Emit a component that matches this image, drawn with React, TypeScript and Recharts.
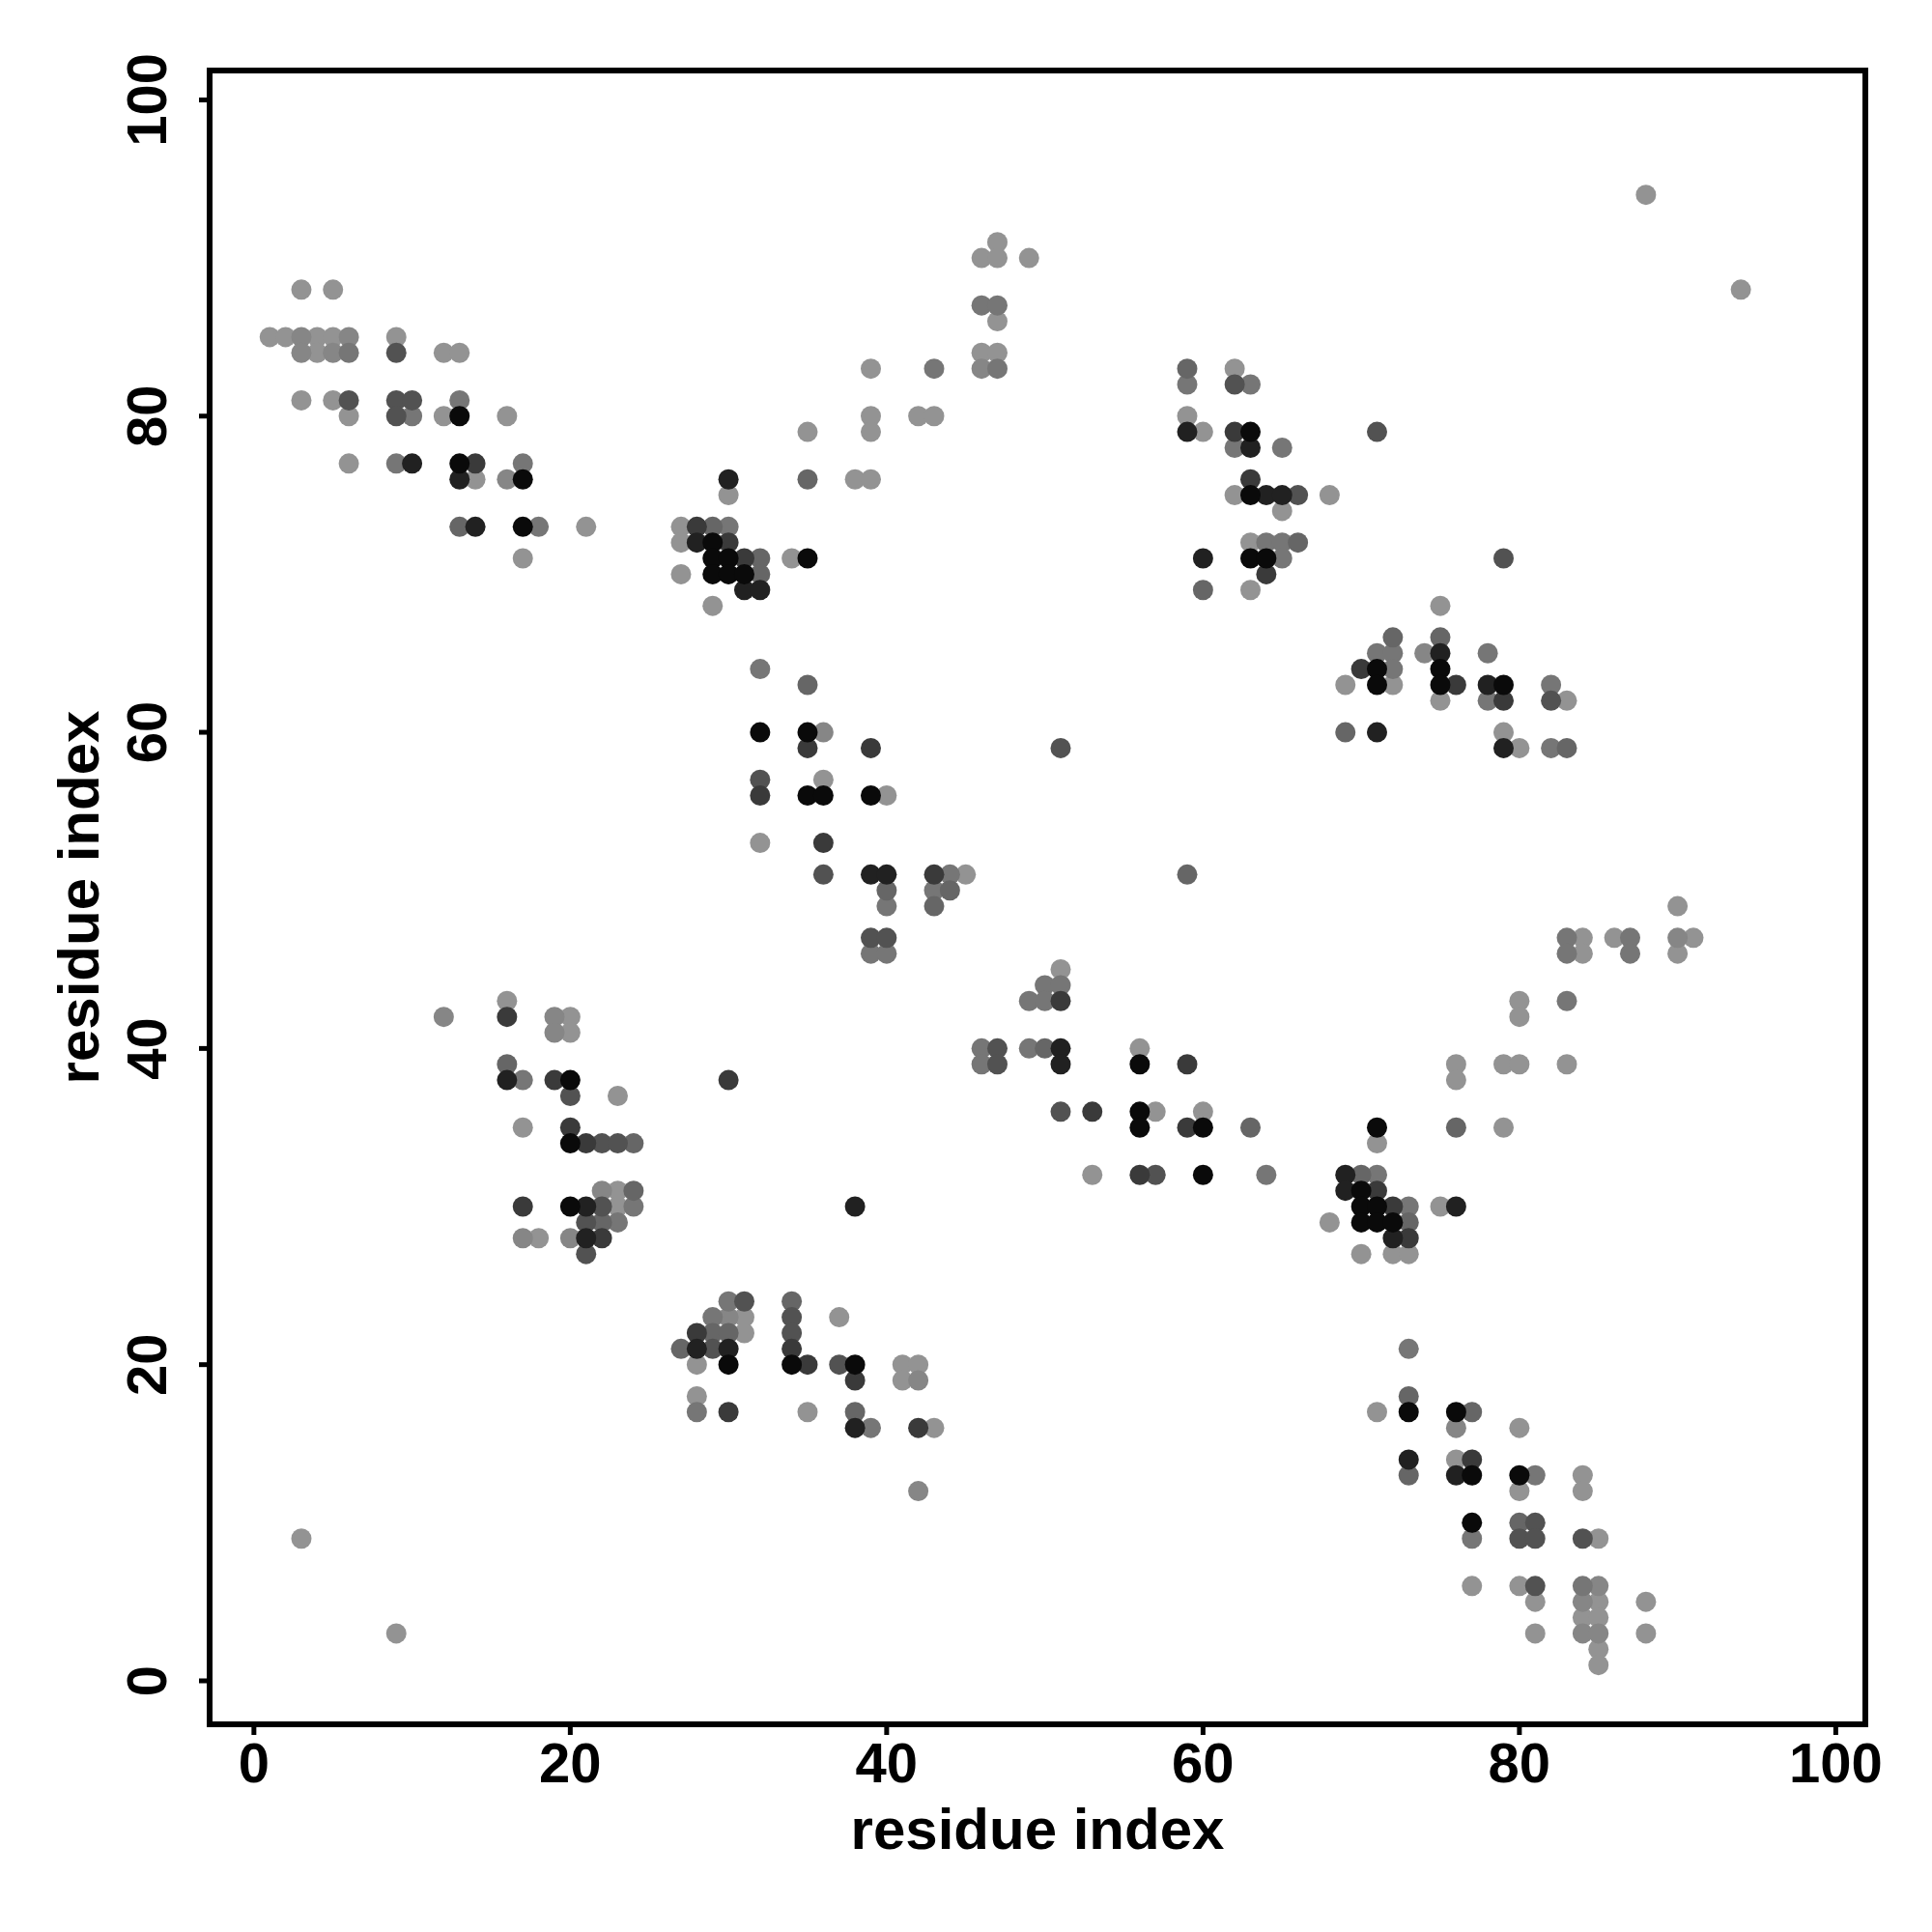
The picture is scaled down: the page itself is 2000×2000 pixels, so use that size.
import React from "react";
import { ScatterChart, Scatter, XAxis, YAxis } from "recharts";

type P = [number, number];

const tickValues = [0, 20, 40, 60, 80, 100];
const axisTitle = "residue index";

const shadeBlack: P[] = [[13,80],[13,77],[17,76],[17,73],[29,72],[29,71],[30,71],[35,71],[29,70],[30,70],[31,70],[32,60],[35,60],[63,79],[63,75],[63,71],[64,71],[71,64],[75,64],[71,63],[75,63],[79,63],[35,56],[36,56],[39,56],[56,39],[56,36],[56,35],[60,35],[60,32],[20,38],[20,34],[20,30],[71,35],[70,31],[70,30],[71,30],[70,29],[71,29],[72,29],[30,20],[34,20],[38,20],[73,17],[76,17],[77,13],[80,13],[77,10]];
const shadeVeryDark: P[] = [[10,77],[13,76],[30,76],[14,73],[28,72],[31,69],[32,69],[59,79],[63,78],[64,75],[65,75],[60,71],[75,65],[78,63],[71,60],[79,59],[39,51],[40,51],[51,40],[51,39],[38,30],[16,38],[21,30],[21,28],[69,32],[69,31],[72,28],[76,30],[28,21],[30,21],[38,16],[73,14],[76,13]];
const shadeDark: P[] = [[14,77],[28,73],[30,72],[31,71],[35,59],[62,79],[63,76],[64,70],[70,64],[76,63],[79,62],[32,56],[39,59],[36,53],[43,51],[51,43],[59,39],[53,36],[59,35],[56,32],[16,42],[19,38],[30,38],[20,35],[21,34],[17,30],[22,28],[71,31],[72,30],[73,28],[28,22],[34,21],[35,20],[38,19],[30,17],[42,16],[77,14]];
const shadeDarkMid: P[] = [[9,84],[6,81],[9,81],[10,81],[9,80],[62,82],[71,79],[66,75],[79,71],[82,62],[32,57],[51,59],[36,51],[39,47],[40,47],[47,40],[47,39],[51,36],[57,32],[20,37],[22,34],[23,34],[22,30],[21,29],[21,27],[31,24],[34,23],[34,22],[29,21],[37,20],[81,10],[80,9],[81,9],[84,9],[81,6]];
const shadeMid: P[] = [[13,73],[29,73],[32,71],[32,70],[35,63],[35,76],[59,83],[66,72],[60,69],[72,66],[75,66],[69,60],[83,59],[59,51],[40,50],[44,50],[43,49],[50,40],[63,35],[16,39],[24,34],[24,31],[22,29],[76,35],[70,32],[73,29],[34,24],[29,22],[30,22],[27,21],[38,17],[73,18],[77,17],[73,13],[80,10]];
const shadeMidLight: P[] = [[6,84],[13,81],[10,80],[9,77],[17,77],[18,73],[30,73],[32,64],[46,87],[47,87],[47,83],[43,83],[59,82],[63,82],[62,78],[65,78],[64,72],[65,72],[65,71],[71,65],[72,65],[78,65],[72,64],[82,63],[78,62],[82,59],[44,51],[43,50],[40,49],[39,46],[40,46],[50,44],[51,44],[49,43],[50,43],[46,40],[49,40],[46,39],[64,32],[17,38],[24,30],[23,29],[83,47],[87,47],[83,46],[87,46],[83,43],[71,32],[73,30],[30,24],[29,23],[28,17],[39,16],[73,21],[77,9],[81,13],[84,6]];
const shadeLightish: P[] = [[3,85],[6,85],[3,84],[5,84],[16,76],[36,60],[46,83],[74,65],[12,42],[19,42],[19,41],[22,31],[17,28],[20,28],[90,47],[30,23],[42,19],[42,12],[76,16],[85,6],[84,5],[84,3],[85,3]];
const shadeLight: P[] = [[3,88],[5,88],[1,85],[2,85],[4,85],[5,85],[9,85],[4,84],[12,84],[13,84],[3,81],[5,81],[6,80],[12,80],[16,80],[35,79],[6,77],[14,76],[30,75],[21,73],[27,73],[27,72],[17,71],[34,71],[27,70],[29,68],[47,91],[46,90],[47,90],[49,90],[47,86],[46,84],[47,84],[39,83],[39,80],[42,80],[43,80],[39,79],[38,76],[39,76],[62,83],[59,80],[60,79],[62,75],[68,75],[65,74],[63,72],[63,69],[75,68],[69,63],[72,63],[75,62],[83,62],[79,60],[80,59],[88,94],[94,88],[36,57],[40,56],[32,53],[45,51],[51,45],[56,40],[57,36],[60,36],[53,32],[16,43],[20,42],[20,41],[23,37],[17,35],[23,31],[23,30],[18,28],[90,49],[84,47],[86,47],[91,47],[84,46],[90,46],[80,43],[80,42],[76,39],[79,39],[80,39],[83,39],[76,38],[79,35],[71,34],[75,30],[68,29],[70,27],[72,27],[73,27],[31,23],[37,23],[31,22],[28,20],[41,20],[42,20],[28,18],[41,19],[35,17],[43,16],[3,9],[9,3],[71,17],[80,16],[76,14],[84,13],[80,12],[84,12],[85,9],[77,6],[80,6],[81,5],[85,5],[88,5],[84,4],[85,4],[81,3],[88,3],[85,2],[85,1]];

const groups: { pts: P[]; color: string }[] = [
  { pts: shadeLight, color: "#939393" },
  { pts: shadeLightish, color: "#868686" },
  { pts: shadeMidLight, color: "#767676" },
  { pts: shadeMid, color: "#666666" },
  { pts: shadeDarkMid, color: "#525252" },
  { pts: shadeDark, color: "#3a3a3a" },
  { pts: shadeVeryDark, color: "#212121" },
  { pts: shadeBlack, color: "#0a0a0a" },
];

const FONT = "'Liberation Sans', Arial, Helvetica, sans-serif";

const XTick = (props: any) => {
  const { x, y, payload } = props;
  return (
    <text x={x} y={y} dy="0.71em" textAnchor="middle" fontFamily={FONT} fontWeight="bold" fontSize={58} fill="#000">
      {payload.value}
    </text>
  );
};

const YTick = (props: any) => {
  const { y, payload } = props;
  const cx = 151;
  return (
    <text x={cx} y={y} dy="0.36em" textAnchor="middle" transform={`rotate(-90, ${cx}, ${y})`} fontFamily={FONT} fontWeight="bold" fontSize={58} fill="#000">
      {payload.value}
    </text>
  );
};

const XTitle = () => (
  <g>
    <rect x={217} y={73} width={1714} height={1712} fill="none" stroke="#000" strokeWidth={6} />
    <text x={1074} y={1914} textAnchor="middle" fontFamily={FONT} fontWeight="bold" fontSize={60} fill="#000">
      {axisTitle}
    </text>
  </g>
);

const YTitle = () => (
  <text x={102} y={929} textAnchor="middle" transform="rotate(-90, 102, 929)" fontFamily={FONT} fontWeight="bold" fontSize={60} fill="#000">
    {axisTitle}
  </text>
);

const DOT_R = 10.5;

const makeShape = (color: string) => (props: any) => (
  <circle cx={props.cx} cy={props.cy} r={DOT_R} fill={color} stroke="none" />
);

export default function App() {
  const xDomain: [number, number] = [-2.8, 101.87];
  const yDomain: [number, number] = [-2.75, 101.86];
  return (
    <div style={{ position: "absolute", left: 0, top: 0, width: 2000, height: 2000, background: "#fff" }}>
      <ScatterChart width={2000} height={2000} margin={{ top: 73, right: 69, bottom: 0, left: 0 }}>
        <XAxis
          type="number"
          dataKey="x"
          domain={xDomain}
          allowDataOverflow
          ticks={tickValues}
          interval={0}
          height={215}
          axisLine={false}
          tickLine={{ stroke: "#000", strokeWidth: 5 }}
          tickSize={11}
          tickMargin={8}
          tick={<XTick />}
          label={{ content: () => <XTitle /> }}
        />
        <YAxis
          type="number"
          dataKey="y"
          domain={yDomain}
          allowDataOverflow
          ticks={tickValues}
          interval={0}
          width={217}
          axisLine={false}
          tickLine={{ stroke: "#000", strokeWidth: 5 }}
          tickSize={11}
          tick={<YTick />}
          label={{ content: () => <YTitle /> }}
        />
        {groups.map((g, i) => (
          <Scatter
            key={i}
            data={g.pts.map(([x, y]) => ({ x, y }))}
            fill={g.color}
            shape={makeShape(g.color)}
            isAnimationActive={false}
          />
        ))}
      </ScatterChart>
    </div>
  );
}
